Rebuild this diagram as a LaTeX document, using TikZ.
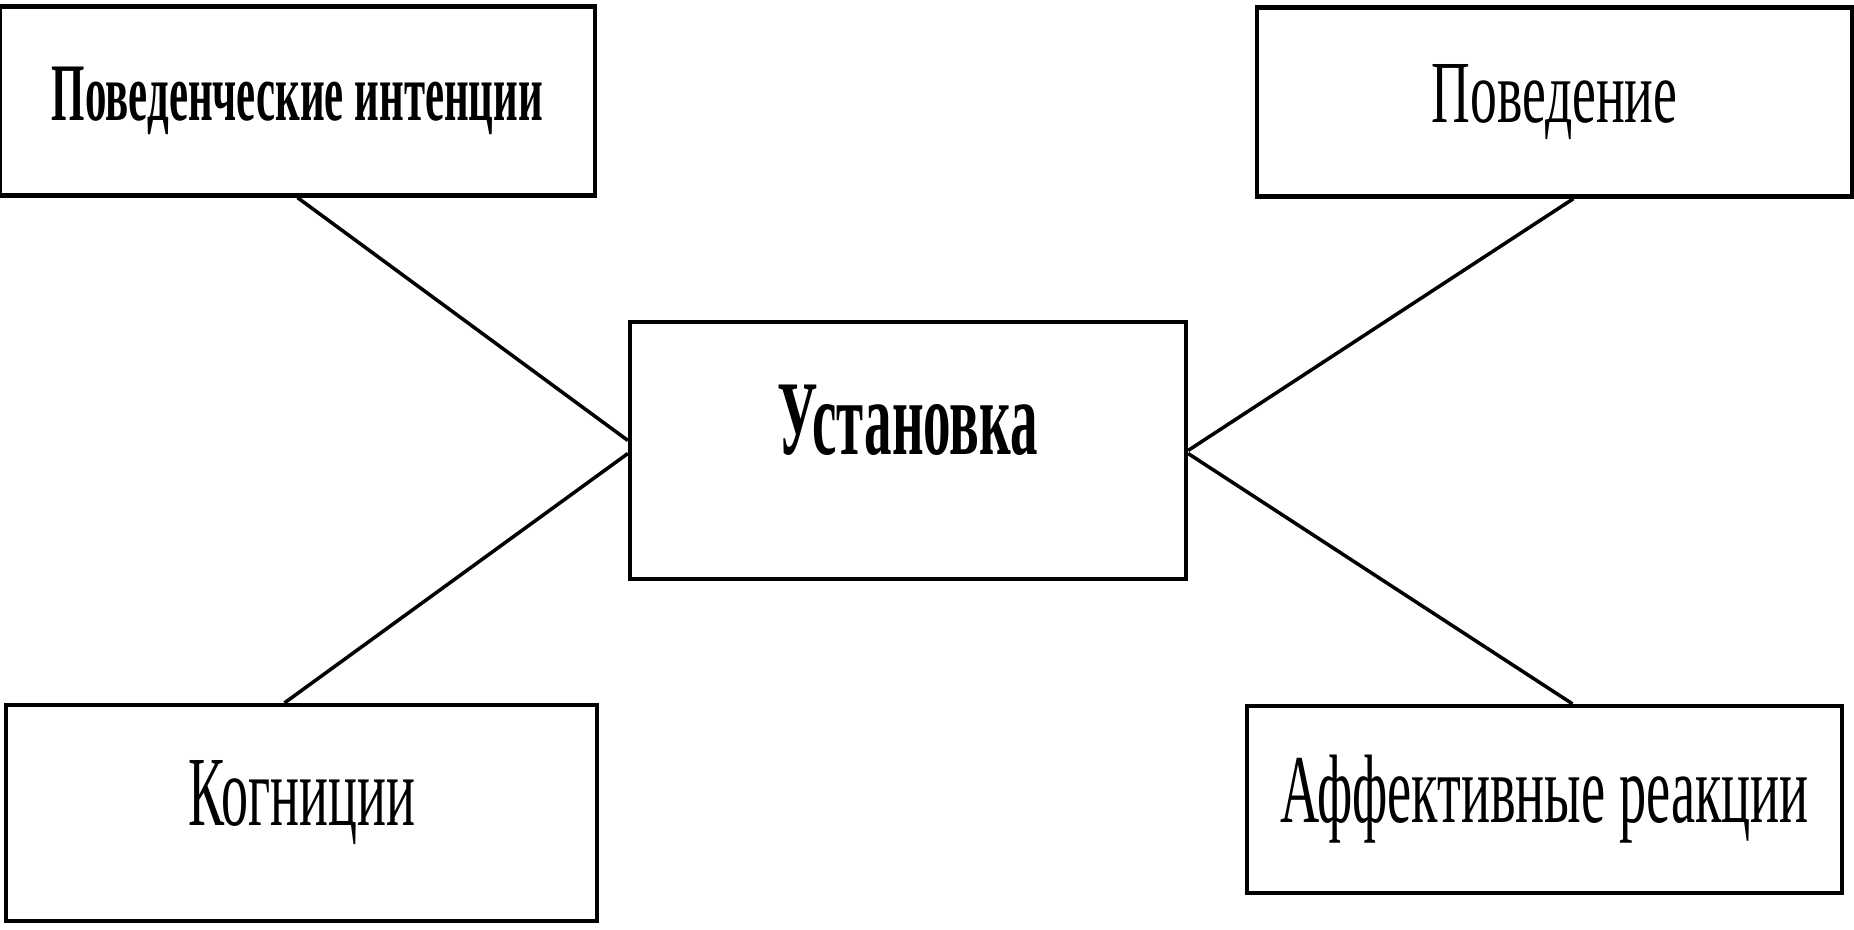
\documentclass[tikz,border=0pt]{standalone}
\usepackage{fontspec}
\setmainfont{Liberation Serif}
\usepackage{graphicx}
\newcommand{\narrowtext}[3]{\resizebox{#1}{#2}{#3}}
\tikzset{
  box/.style={draw, line width=2.4pt, inner sep=0pt, minimum width=11.9cm, minimum height=3.78cm},
  link/.style={line width=2pt},
}
\begin{document}
\begin{tikzpicture}
                \useasboundingbox (0,0) rectangle (37.08,-18.6);

                % the middle box
                \node[box, minimum width=11.12cm, minimum height=5.14cm] (attitude)
                at (18.16,-9.01) {\raisebox{1.25cm}{\narrowtext{5.2cm}{1.39cm}{\bfseries Установка}}};

                % the four outer boxes
                \node[box] (intent) at (5.95,-2.02)
                {\narrowtext{9.82cm}{1.07cm}{\bfseries Поведенческие интенции}};
                \node[box] (behav) at (31.09,-2.04)
                {\raisebox{0.05cm}{\narrowtext{4.92cm}{1.16cm}{Поведение}}};
                \node[box, minimum width=11.82cm, minimum height=4.32cm] (cogn) at (6.03,-16.26)
                {\raisebox{0.8cm}{\narrowtext{4.54cm}{1.3cm}{Когниции}}};
                \node[box, minimum height=3.74cm] (affect) at (30.89,-15.99)
                {\raisebox{0.1cm}{\narrowtext{10.57cm}{1.35cm}{Аффективные реакции}}};

                \draw[link] (intent.south) -- ([yshift=0.2cm]attitude.west);
                \draw[link] ([xshift=-0.34cm]cogn.north) -- ([yshift=-0.06cm]attitude.west);
                \draw[link] ([xshift=0.38cm]behav.south) -- (attitude.east);
                \draw[link] ([xshift=0.56cm]affect.north) -- ([yshift=-0.06cm]attitude.east);
              \end{tikzpicture}
\end{document}
